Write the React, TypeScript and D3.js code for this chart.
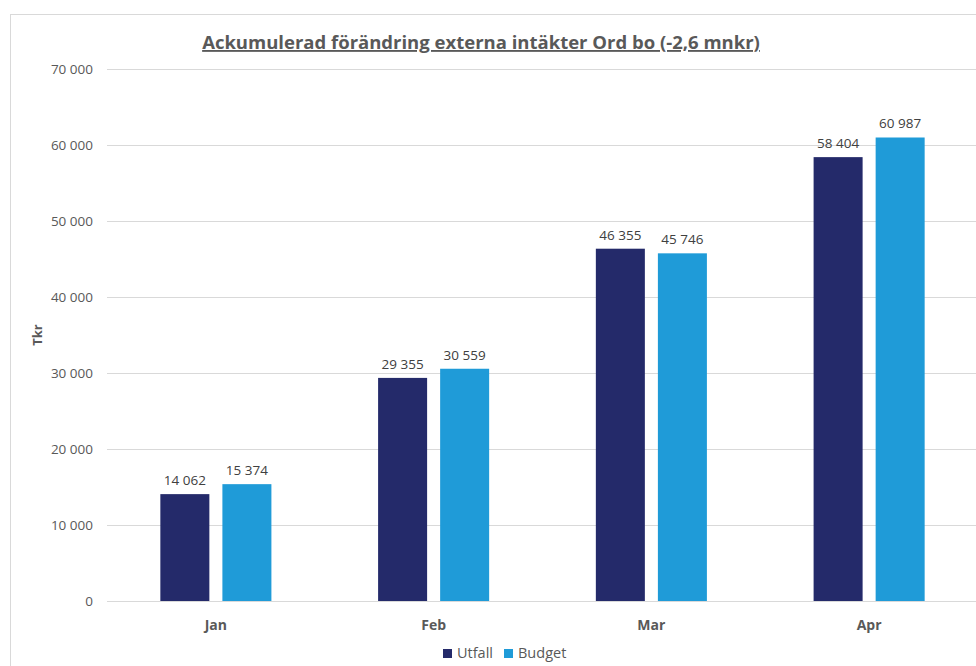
import React, { useEffect, useRef } from "react";
import * as d3 from "d3";

const months = ["Jan", "Feb", "Mar", "Apr"];
const seriesNames = ["Utfall", "Budget"];
const utfall = [14062, 29355, 46355, 58404];
const budget = [15374, 30559, 45746, 60987];
const yTicks = [0, 10000, 20000, 30000, 40000, 50000, 60000, 70000];
const colors = ["#242a6a", "#1f9bd8"];

const fmt = (v: number) => d3.format(",")(v).replace(/,/g, " ");

export default function App() {
  const ref = useRef<SVGSVGElement>(null);

  useEffect(() => {
    const W = 976;
    const H = 666;
    const svg = d3.select(ref.current).attr("width", W).attr("height", H);
    svg.selectAll("*").remove();
    const font = "'Open Sans', 'Noto Sans', sans-serif";

    svg.append("rect").attr("width", W).attr("height", H).attr("fill", "#ffffff");
    svg
      .append("rect")
      .attr("x", 10.5)
      .attr("y", 14.5)
      .attr("width", 1000)
      .attr("height", 700)
      .attr("fill", "none")
      .attr("stroke", "#d9d9d9");

    const left = 107;
    const right = 978;
    const top = 69;
    const bottom = 601;

    const x0 = d3.scaleBand().domain(months).range([left, right]).paddingInner(0.49).paddingOuter(0.245);
    const x1 = d3.scaleBand().domain(seriesNames).range([0, x0.bandwidth()]).paddingInner(0.21);
    const y = d3.scaleLinear().domain([0, 70000]).range([bottom, top]);

    // grid
    svg
      .append("g")
      .selectAll("line")
      .data(yTicks)
      .enter()
      .append("line")
      .attr("x1", left)
      .attr("x2", right)
      .attr("y1", (d) => Math.round(y(d)) + 0.5)
      .attr("y2", (d) => Math.round(y(d)) + 0.5)
      .attr("stroke", "#d9d9d9")
      .attr("stroke-width", 1);

    // y tick labels
    svg
      .append("g")
      .selectAll("text")
      .data(yTicks)
      .enter()
      .append("text")
      .attr("x", 93)
      .attr("y", (d) => y(d) + 5)
      .attr("text-anchor", "end")
      .attr("font-family", font)
      .attr("font-size", 13.5)
      .attr("fill", "#595959")
      .text((d) => fmt(d));

    // y title
    svg
      .append("text")
      .attr("transform", `translate(42,${(top + bottom) / 2}) rotate(-90)`)
      .attr("text-anchor", "middle")
      .attr("font-family", font)
      .attr("font-size", 13)
      .attr("font-weight", "bold")
      .attr("fill", "#595959")
      .text("Tkr");

    const rows = months.map((m, i) => ({ month: m, values: [utfall[i], budget[i]] }));

    const groups = svg
      .append("g")
      .selectAll("g")
      .data(rows)
      .enter()
      .append("g")
      .attr("transform", (d) => `translate(${x0(d.month)},0)`);

    groups
      .selectAll("rect")
      .data((d) => d.values.map((v, j) => ({ name: seriesNames[j], value: v, j })))
      .enter()
      .append("rect")
      .attr("x", (d) => x1(d.name)!)
      .attr("width", x1.bandwidth())
      .attr("y", (d) => y(d.value))
      .attr("height", (d) => bottom - y(d.value))
      .attr("fill", (d) => colors[d.j]);

    groups
      .selectAll("text")
      .data((d) => d.values.map((v, j) => ({ name: seriesNames[j], value: v })))
      .enter()
      .append("text")
      .attr("x", (d) => x1(d.name)! + x1.bandwidth() / 2)
      .attr("y", (d) => y(d.value) - 9)
      .attr("text-anchor", "middle")
      .attr("font-family", font)
      .attr("font-size", 13.5)
      .attr("fill", "#404040")
      .text((d) => fmt(d.value));

    // x labels
    svg
      .append("g")
      .selectAll("text")
      .data(months)
      .enter()
      .append("text")
      .attr("x", (d) => x0(d)! + x0.bandwidth() / 2)
      .attr("y", 630)
      .attr("text-anchor", "middle")
      .attr("font-family", font)
      .attr("font-size", 14)
      .attr("font-weight", "bold")
      .attr("fill", "#595959")
      .text((d) => d);

    // title
    svg
      .append("text")
      .attr("x", 481)
      .attr("y", 49)
      .attr("text-anchor", "middle")
      .attr("font-family", font)
      .attr("font-size", 18.5)
      .attr("font-weight", "bold")
      .attr("fill", "#595959")
      .attr("text-decoration", "underline")
      .text("Ackumulerad förändring externa intäkter Ord bo (-2,6 mnkr)");

    // legend
    const legend = svg.append("g");
    const legendX = [443, 504];
    seriesNames.forEach((n, i) => {
      legend
        .append("rect")
        .attr("x", legendX[i])
        .attr("y", 649)
        .attr("width", 9)
        .attr("height", 9)
        .attr("fill", colors[i]);
      legend
        .append("text")
        .attr("x", legendX[i] + 14)
        .attr("y", 658)
        .attr("font-family", font)
        .attr("font-size", 14.5)
        .attr("fill", "#595959")
        .text(n);
    });
  }, []);

  return (
    <div style={{ position: "fixed", left: 0, top: 0 }}>
      <svg ref={ref} style={{ display: "block" }}></svg>
    </div>
  );
}
